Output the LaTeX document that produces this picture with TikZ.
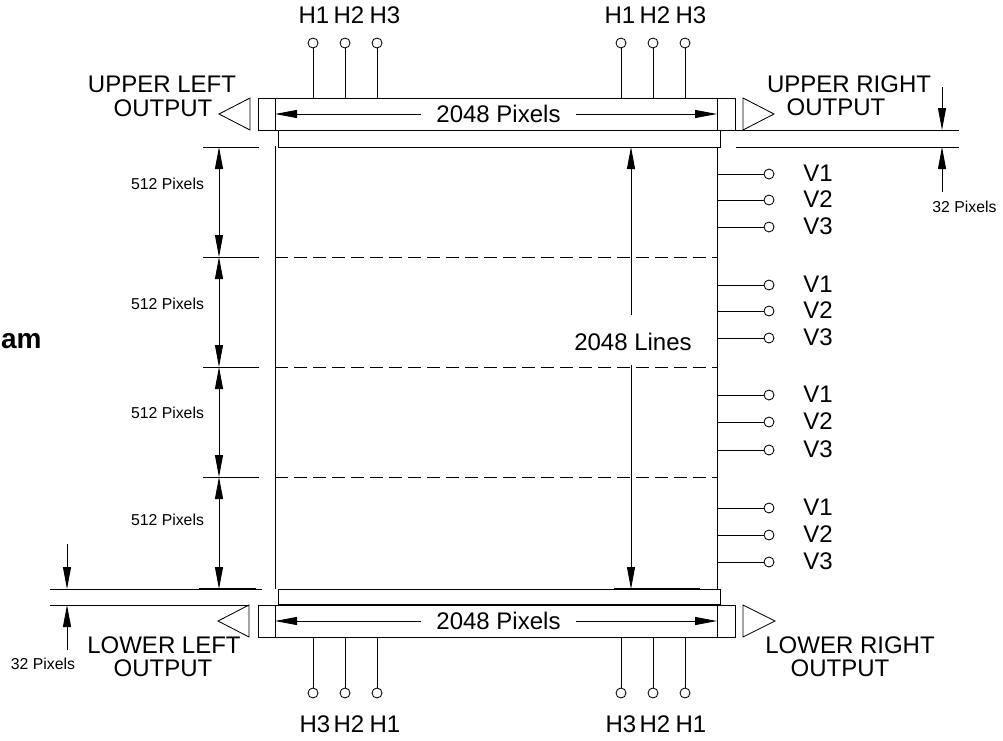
\documentclass[tikz,border=0pt]{standalone}
\usepackage{fontspec}
\setmainfont{Liberation Sans}
\usetikzlibrary{arrows.meta}

\begin{document}
\begin{tikzpicture}[x=1pt, y=-1pt, line width=0.85pt,
    every node/.style={font=\fontsize{24}{24}\selectfont, inner sep=0pt},
    small/.style={font=\fontsize{15.8}{16}\selectfont},
    pad/.style={draw, circle, minimum size=10pt},
    dim/.style={-{Triangle[length=22pt,width=8pt]}},
    dimboth/.style={{Triangle[length=22pt,width=8pt]}-{Triangle[length=22pt,width=8pt]}},
    zone/.style={dash pattern=on 13pt off 6pt},
    dimtick/.style={line width=1pt}]
  \useasboundingbox (0,0) rectangle (1003,740);
  % Output registers
  \draw (258,98) rectangle (735,130);
  \draw (258,605) rectangle (735,637);
  \draw (275,98) -- (275,130);
  \draw (717,98) -- (717,130);
  \draw (275,605) -- (275,637);
  \draw (717,605) -- (717,637);
  \draw (278,130) rectangle (720,147);
  \draw (278,589) rectangle (720,605);
  \draw[line width=1.5pt] (278,605) -- (720,605);
  % Imaging area
  \draw (275,146) -- (275,589);
  \draw (717,147) -- (717,589);
  \draw[zone] (275,257) -- (717,257);
  \draw[zone] (275,367) -- (717,367);
  \draw[zone] (275,477) -- (717,477);
  % Output amplifiers
  \draw (250,98) -- (219,114) -- (250,130) -- cycle;
  \draw (743,98) -- (774,114) -- (743,130) -- cycle;
  \draw (249,605) -- (218,621) -- (249,637) -- cycle;
  \draw (743,605) -- (775,621) -- (743,637) -- cycle;
  \node (ul) at (162,84) {UPPER LEFT};
  \node (ulo) at (163,108) {OUTPUT};
  \node (ur) at (849,84) {UPPER RIGHT};
  \node (uro) at (836,107) {OUTPUT};
  \node (ll) at (164,645) {LOWER LEFT};
  \node (llo) at (163,668) {OUTPUT};
  \node (lr) at (850,645) {LOWER RIGHT};
  \node (lro) at (840,668) {OUTPUT};
  % Horizontal clocks
  \foreach \n/\x in {1/313, 2/345, 3/377, 4/621, 5/653, 6/685} {
    \node[pad] (ht\n) at (\x,43) {};
    \coordinate (hte\n) at (\x,98);
    \draw (ht\n) -- (hte\n);
    \node[pad] (hb\n) at (\x,693) {};
    \coordinate (hbe\n) at (\x,637);
    \draw (hb\n) -- (hbe\n);
  }
  \foreach \n/\x/\t in {1/314/H1, 2/349/H2, 3/385/H3, 4/620/H1, 5/655/H2, 6/691/H3}
    \node (htl\n) at (\x,15) {\t};
  \foreach \n/\x/\t in {1/315/H3, 2/349/H2, 3/385/H1, 4/621/H3, 5/655/H2, 6/691/H1}
    \node (hbl\n) at (\x,724) {\t};
  % Vertical clocks
  \foreach \n/\y/\t in {1/174/V1, 2/200/V2, 3/227/V3, 4/285/V1, 5/311/V2, 6/338/V3,
      7/395/V1, 8/422/V2, 9/450/V3, 10/508/V1, 11/535/V2, 12/562/V3} {
    \node[pad] (v\n) at (769,\y) {};
    \coordinate (ve\n) at (717,\y);
    \draw (ve\n) -- (v\n);
    \node (vl\n) at (818,\y-1) {\t};
  }
  % Pixel counts across the registers
  \node[inner xsep=15pt] (pt) at (498.5,114) {2048 Pixels};
  \node[inner xsep=15pt] (pb) at (498.5,621) {2048 Pixels};
  \coordinate (ptl) at (275,114);
  \coordinate (ptr) at (717,114);
  \coordinate (pbl) at (275,621);
  \coordinate (pbr) at (717,621);
  \draw[dim] (pt) -- (ptl);
  \draw[dim] (pt) -- (ptr);
  \draw[dim] (pb) -- (pbl);
  \draw[dim] (pb) -- (pbr);
  % Line count
  \node (lines) at (633,342) {2048 Lines};
  \coordinate (lt) at (631,147);
  \coordinate (lb) at (631,589);
  \coordinate (lts) at (631,315);
  \coordinate (lbs) at (631,365);
  \draw[dimtick] (614,147) -- (700,147);
  \draw[dimtick] (614,588) -- (700,588);
  \draw[dim] (lts) -- (lt);
  \draw[dim] (lbs) -- (lb);
  % Zone heights
  \coordinate (z0) at (219,147);
  \coordinate (z1) at (219,257);
  \coordinate (z2) at (219,367);
  \coordinate (z3) at (219,477);
  \coordinate (z4) at (219,589);
  \draw[dimtick] (203,147) -- (259,147);
  \draw[dimtick] (203,257) -- (259,257);
  \draw[dimtick] (203,367) -- (259,367);
  \draw[dimtick] (203,477) -- (259,477);
  \draw[dimtick] (199,588) -- (256,588);
  \draw[dimboth] (z0) -- (z1);
  \draw[dimboth] (z1) -- (z2);
  \draw[dimboth] (z2) -- (z3);
  \draw[dimboth] (z3) -- (z4);
  \node[small] (z1l) at (167.5,184) {512 Pixels};
  \node[small] (z2l) at (167.5,304) {512 Pixels};
  \node[small] (z3l) at (167.5,413) {512 Pixels};
  \node[small] (z4l) at (167.5,520) {512 Pixels};
  % Dark rows
  \draw (736,130) -- (959,130);
  \draw (736,147) -- (959,147);
  \coordinate (rt) at (942,130);
  \coordinate (rb) at (942,147);
  \coordinate (rts) at (942,87);
  \coordinate (rbs) at (942,192);
  \draw[dim] (rts) -- (rt);
  \draw[dim] (rbs) -- (rb);
  \node[small] (rl) at (964.5,207) {32 Pixels};
  \draw (50,589) -- (262,589);
  \draw (50,605) -- (249,605);
  \coordinate (lot) at (67,589);
  \coordinate (lob) at (67,605);
  \coordinate (lots) at (67,544);
  \coordinate (lobs) at (67,650);
  \draw[dim] (lots) -- (lot);
  \draw[dim] (lobs) -- (lob);
  \node[small] (ll32) at (43,664) {32 Pixels};
  % Cut off title
  \node[anchor=base east, font=\fontsize{28}{28}\selectfont\bfseries] (title) at (42,348) {am};
\end{tikzpicture}
\end{document}
